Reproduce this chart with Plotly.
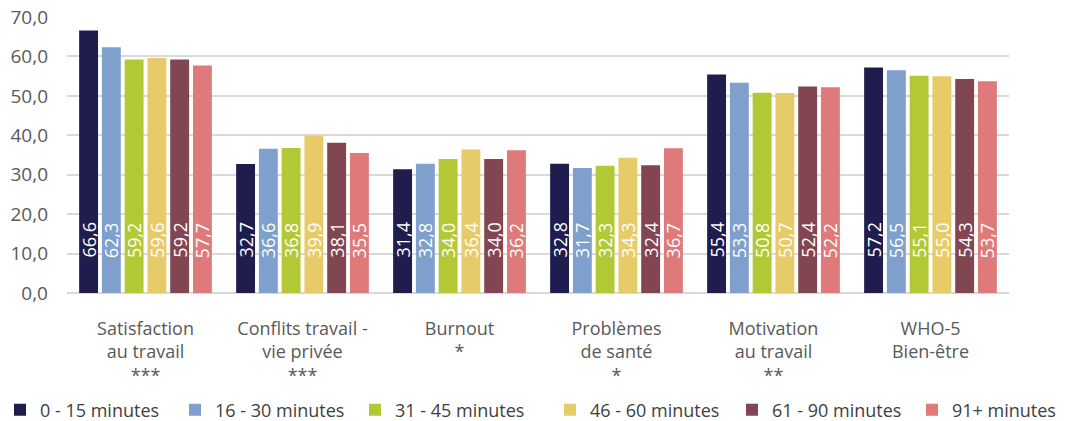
import plotly.graph_objects as go

categories = ["Satisfaction<br>au travail<br>***", "Conflits travail -<br>vie privée<br>***",
              "Burnout<br>*", "Problèmes<br>de santé<br>*", "Motivation<br>au travail<br>**",
              "WHO-5<br>Bien-être"]
series_names = ["0 - 15 minutes", "16 - 30 minutes", "31 - 45 minutes",
                "46 - 60 minutes", "61 - 90 minutes", "91+ minutes"]
v_0_15 = [66.6, 32.7, 31.4, 32.8, 55.4, 57.2]
v_16_30 = [62.3, 36.6, 32.8, 31.7, 53.3, 56.5]
v_31_45 = [59.2, 36.8, 34.0, 32.3, 50.8, 55.1]
v_46_60 = [59.6, 39.9, 36.4, 34.3, 50.7, 55.0]
v_61_90 = [59.2, 38.1, 34.0, 32.4, 52.4, 54.3]
v_91 = [57.7, 35.5, 36.2, 36.7, 52.2, 53.7]
series_values = [v_0_15, v_16_30, v_31_45, v_46_60, v_61_90, v_91]
colors = ["#1e1d4d", "#7f9fcc", "#b2c935", "#e8cb69", "#824652", "#de7a7a"]
y_ticks = [0, 10, 20, 30, 40, 50, 60, 70]

W, H = 1077, 421
FONT = "Open Sans"
BARGAP = 0.13
BARGROUPGAP = 0.17
# left edge (px) of each legend entry, one legend per series
legend_left_px = [-5, 175, 355, 550, 732, 912]

fig = go.Figure()
n = len(series_names)
slot = (1 - BARGAP) / n
annotations = []
for i, (name, vals, col) in enumerate(zip(series_names, series_values, colors)):
    lg = "legend" if i == 0 else f"legend{i + 1}"
    fig.add_trace(go.Bar(
        x=categories, y=vals, name=name, marker=dict(color=col, line=dict(width=0)),
        legend=lg, showlegend=True,
        hovertemplate="%{y:.1f}<extra>" + name + "</extra>",
    ))
    # value labels, rotated, near the base of each bar (position on category axis)
    for j, v in enumerate(vals):
        annotations.append(dict(
            x=j + (i - (n - 1) / 2) * slot, y=0, xref="x", yref="y",
            text=f"{v:.1f}".replace(".", ","), textangle=-90, showarrow=False,
            xanchor="center", yanchor="bottom", yshift=33,
            font=dict(color="white", size=18, family=FONT),
        ))

legends = {}
for i, px in enumerate(legend_left_px):
    key = "legend" if i == 0 else f"legend{i + 1}"
    legends[key] = dict(orientation="h", xref="container", x=px / W, xanchor="left",
                        yref="container", y=(H - 410) / H, yanchor="middle",
                        font=dict(size=18, color="#404040", family=FONT),
                        bgcolor="rgba(0,0,0,0)")

fig.update_layout(
    barmode="group", bargap=BARGAP, bargroupgap=BARGROUPGAP,
    separators=", ", showlegend=True,
    width=W, height=H,
    margin=dict(l=67, r=68, t=17, b=128, autoexpand=False),
    plot_bgcolor="white", paper_bgcolor="white",
    font=dict(family=FONT, color="#595959", size=18),
    annotations=annotations,
    **legends,
)
fig.update_yaxes(range=[0, 70], tickvals=y_ticks, tickformat=".1f",
                 showgrid=True, gridcolor="#d9d9d9", gridwidth=2,
                 zeroline=True, zerolinecolor="#d9d9d9", zerolinewidth=2,
                 showline=False, ticks="", ticklabelstandoff=18,
                 tickfont=dict(size=19, color="#595959"))
fig.update_xaxes(showline=False, ticks="", ticklabelstandoff=23,
                 tickfont=dict(size=18, color="#595959"))
fig.write_html("out.html")
